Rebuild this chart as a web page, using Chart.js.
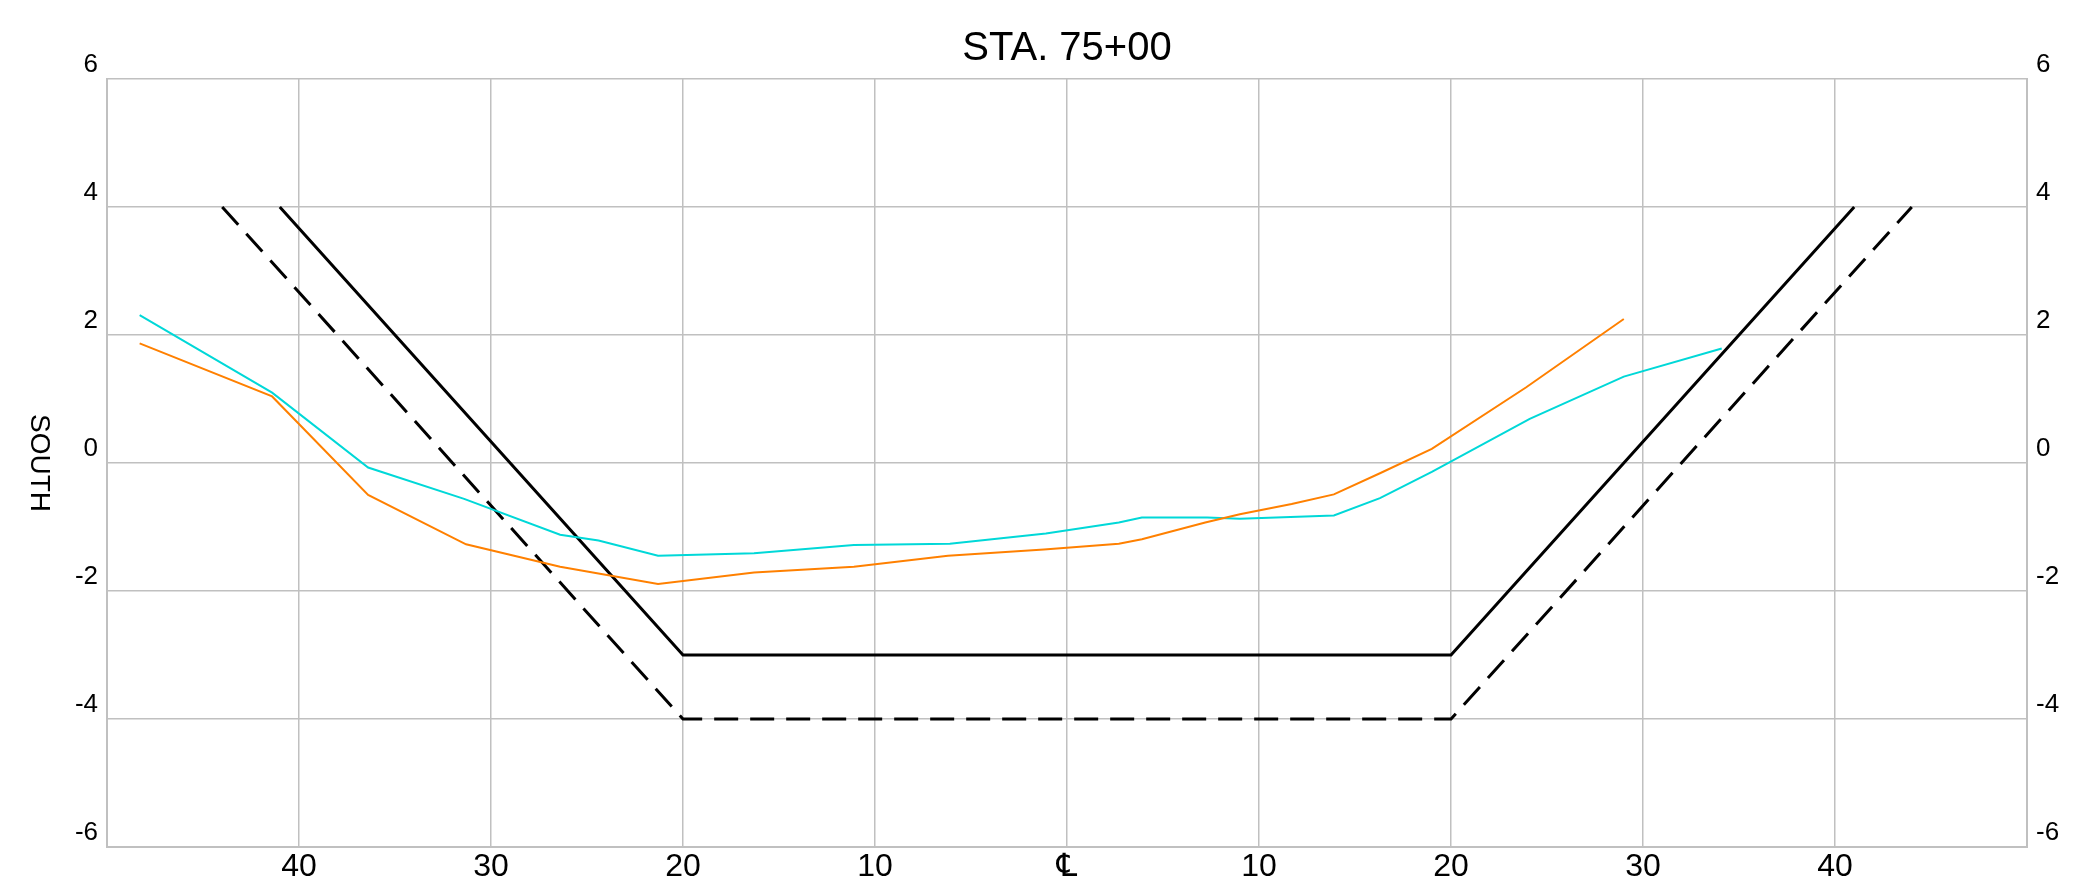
<!DOCTYPE html>
<html>
<head>
<meta charset="utf-8">
<script src="https://cdn.jsdelivr.net/npm/chart.js@4.4.1/dist/chart.umd.min.js"></script>
<style>
  html, body { margin: 0; padding: 0; background: #fff; overflow: hidden; }
  #wrap { width: 2076px; height: 876px; }
</style>
</head>
<body>
<div id="wrap"><canvas id="sectionChart"></canvas></div>
<script>
const orangeX = [-48.3, -41.4, -36.4, -31.3, -26.4, -21.3, -16.3, -11.1, -6.2, -1.2, 2.7, 3.9, 7.2, 9.0, 11.7, 13.9, 16.3, 19.0, 23.9, 29.0];
const orangeY = [1.87, 1.04, -0.50, -1.27, -1.62, -1.89, -1.71, -1.62, -1.45, -1.35, -1.26, -1.19, -0.93, -0.80, -0.64, -0.49, -0.16, 0.22, 1.18, 2.25];

const cyanX = [-48.3, -41.4, -36.4, -31.4, -26.4, -24.4, -21.3, -16.3, -11.1, -6.1, -1.1, 2.7, 3.9, 7.3, 9.0, 13.9, 16.3, 19.0, 24.1, 29.0, 34.1];
const cyanY = [2.31, 1.10, -0.07, -0.56, -1.12, -1.21, -1.45, -1.41, -1.28, -1.26, -1.10, -0.93, -0.85, -0.85, -0.87, -0.82, -0.55, -0.14, 0.69, 1.35, 1.79];

// design template (solid) and overdig limit (dashed)
const designX = [-41, -20, 20, 41];
const designY = [4, -3, -3, 4];
const limitX = [-44, -20, 20, 44];
const limitY = [4, -4, -4, 4];

const xTicks = [-40, -30, -20, -10, 0, 10, 20, 30, 40];
const yTicks = [-6, -4, -2, 0, 2, 4, 6];

const FONT = "'Liberation Sans', Arial, 'DejaVu Sans', sans-serif";
const GRID = '#c0c0c0';

function pts(xs, ys) {
  return xs.map((x, i) => ({ x: x, y: ys[i] }));
}

// y-axis title reads top to bottom on the left side
const southLabel = {
  id: 'southLabel',
  afterDraw(chart) {
    const ctx = chart.ctx;
    const a = chart.chartArea;
    ctx.save();
    ctx.translate(31, (a.top + a.bottom) / 2);
    ctx.rotate(Math.PI / 2);
    ctx.font = '28px ' + FONT;
    ctx.fillStyle = '#000';
    ctx.textAlign = 'center';
    ctx.textBaseline = 'alphabetic';
    ctx.fillText('SOUTH', 0, 0);
    ctx.restore();
  }
};

const yTickOpts = {
  font: { size: 26, family: FONT },
  color: '#000',
  padding: 9,
  labelOffset: -14
};

new Chart(document.getElementById('sectionChart'), {
  type: 'scatter',
  data: {
    datasets: [
      {
        data: pts(orangeX, orangeY),
        showLine: true,
        borderColor: '#ff8000',
        borderWidth: 2,
        pointRadius: 0
      },
      {
        data: pts(cyanX, cyanY),
        showLine: true,
        borderColor: '#00d8d8',
        borderWidth: 2,
        pointRadius: 0
      },
      {
        data: pts(designX, designY),
        showLine: true,
        borderColor: '#000',
        borderWidth: 3,
        pointRadius: 0
      },
      {
        data: pts(limitX, limitY),
        showLine: true,
        borderColor: '#000',
        borderWidth: 3,
        borderDash: [24, 12],
        pointRadius: 0
      }
    ]
  },
  options: {
    responsive: true,
    maintainAspectRatio: false,
    animation: false,
    layout: { padding: 0 },
    plugins: {
      legend: { display: false },
      tooltip: { enabled: false },
      title: {
        display: true,
        text: 'STA. 75+00',
        fullSize: false,
        color: '#000',
        font: { size: 40, weight: 'normal', family: FONT },
        padding: { top: 25, bottom: 6 }
      }
    },
    scales: {
      x: {
        type: 'linear',
        min: -50,
        max: 50,
        afterBuildTicks(scale) {
          scale.ticks = xTicks.map(v => ({ value: v }));
        },
        afterFit(scale) { scale.height = 29; },
        ticks: {
          font: { size: 32, family: FONT },
          color: '#000',
          padding: 1,
          maxRotation: 0,
          callback: v => (v === 0 ? '\u2104' : Math.abs(v))
        },
        grid: { color: GRID, lineWidth: 1.5, drawTicks: false },
        border: { color: GRID, width: 2 }
      },
      y: {
        type: 'linear',
        position: 'left',
        min: -6,
        max: 6,
        afterBuildTicks(scale) {
          scale.ticks = yTicks.map(v => ({ value: v }));
        },
        afterFit(scale) { scale.width = 107; },
        ticks: yTickOpts,
        grid: { color: GRID, lineWidth: 1.5, drawTicks: false },
        border: { color: GRID, width: 2 }
      },
      y2: {
        type: 'linear',
        position: 'right',
        min: -6,
        max: 6,
        afterBuildTicks(scale) {
          scale.ticks = yTicks.map(v => ({ value: v }));
        },
        afterFit(scale) { scale.width = 49; },
        ticks: yTickOpts,
        grid: { display: false, drawTicks: false },
        border: { color: GRID, width: 2 }
      }
    }
  },
  plugins: [southLabel]
});
</script>
</body>
</html>
